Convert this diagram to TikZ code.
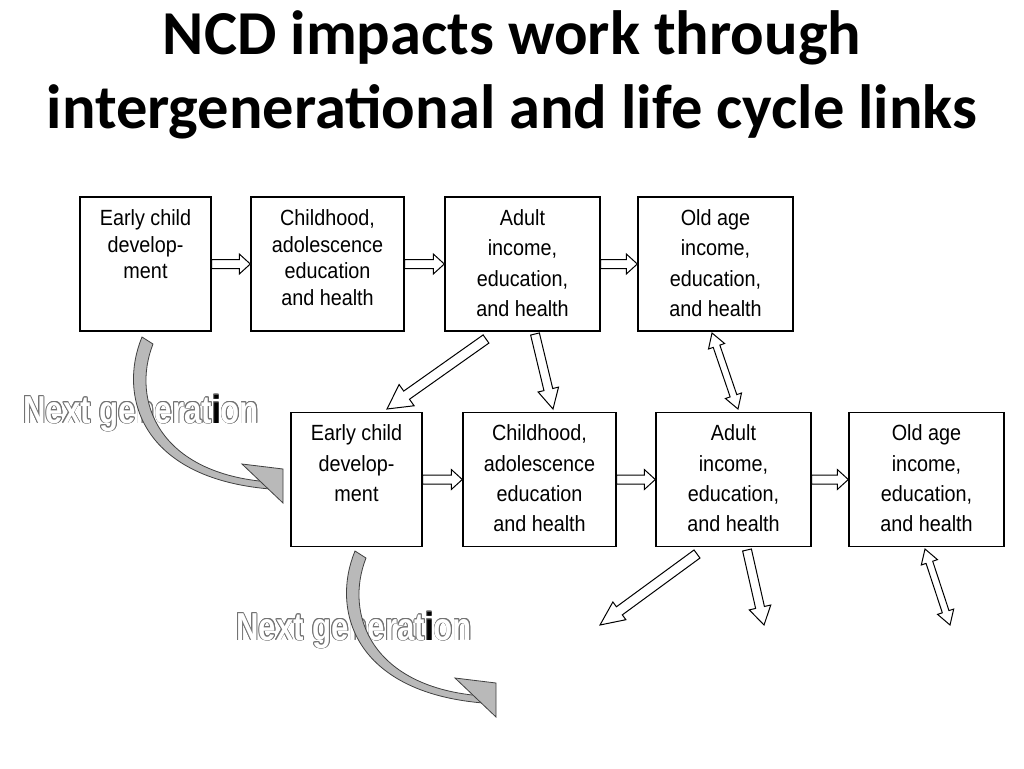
\documentclass[tikz,border=0pt]{standalone}
\usepackage{fontspec}
\usetikzlibrary{calc,positioning}
\newfontfamily\titlefont{Carlito}
\newfontfamily\boxfont[FakeStretch=0.9]{Liberation Sans}
\newfontfamily\genfont[FakeStretch=0.8]{Liberation Sans}

\tikzset{
  box/.style={draw, line width=1.4pt, inner sep=0pt, minimum height=134pt},
  boxtext/.style={inner sep=0pt, align=center, font=\boxfont\fontsize{22}{30.3}\selectfont},
  boxtight/.style={boxtext, font=\boxfont\fontsize{22}{26.6}\selectfont},
  fatline/.style={draw=black, line width=1pt, fill=white, line join=miter},
  genshape/.style={fill=gray!55, draw=black!75, line width=0.8pt},
  genlbl/.style={inner sep=0pt, anchor=base west, font=\genfont\bfseries\fontsize{39}{39}\selectfont},
  titletext/.style={anchor=base, font=\titlefont\bfseries\fontsize{62.5}{70}\selectfont},
}

% hollow block arrow: shaft half width, head half width, head length, from, to
\newcommand{\fatarrow}[5]{%
  \path[fatline] let \p1=(#4), \p2=(#5), \p3=($(#5)!#3!(#4)$) in
    ($(\p1)!#1!-90:(\p2)$) -- ($(\p3)!#1!-90:(\p2)$) -- ($(\p3)!#2!-90:(\p2)$)
    -- (\p2) -- ($(\p3)!#2!90:(\p2)$) -- ($(\p3)!#1!90:(\p2)$)
    -- ($(\p1)!#1!90:(\p2)$) -- cycle;
}
% same, with a head at both ends
\newcommand{\fatdarrow}[5]{%
  \path[fatline] let \p1=(#4), \p2=(#5), \p3=($(#5)!#3!(#4)$), \p4=($(#4)!#3!(#5)$) in
    (\p1) -- ($(\p4)!#2!-90:(\p2)$) -- ($(\p4)!#1!-90:(\p2)$)
    -- ($(\p3)!#1!-90:(\p2)$) -- ($(\p3)!#2!-90:(\p2)$) -- (\p2)
    -- ($(\p3)!#2!90:(\p2)$) -- ($(\p3)!#1!90:(\p2)$)
    -- ($(\p4)!#1!90:(\p2)$) -- ($(\p4)!#2!90:(\p2)$) -- cycle;
}
% grey curved arrow to the next generation
\newcommand{\genarrow}{%
  \path[genshape] (142,337) .. controls (118,395) and (140,478) .. (270,489)
    -- (270,482) .. controls (158,474) and (131,400) .. (153,344) -- cycle;
  \path[genshape] (242,464) -- (283,469) -- (283,503) -- cycle;
}
% outlined label: name, position
\newcommand{\genlabel}[2]{%
  \foreach \a [count=\k] in {0,30,...,330}
    \node[genlbl, text=black!55] (#1o\k) at ($(#2)+(\a:0.8pt)$) {Next generation};
  \node[genlbl, text=white] (#1) at (#2) {Next generat{\color{black}i}on};
}

\begin{document}
\begin{tikzpicture}[x=1pt,y=-1pt]
\useasboundingbox (0,0) rectangle (1024,768);

% title
\node[titletext] (title1) at (512,55) {NCD impacts work through};
\node[titletext] (title2) at (512,128) {intergenerational and life cycle links};

% this generation
\node[box, minimum width=131pt] (ecd1) at (145.5,264) {};
\node[box, minimum width=153pt] (chd1) at (327.5,264) {};
\node[box, minimum width=155pt] (adu1) at (522.5,264) {};
\node[box, minimum width=155pt] (old1) at (715.5,264) {};
\node[boxtight, below=13pt of ecd1.north] (ecd1t) {Early child\\develop-\\ment};
\node[boxtight, below=13pt of chd1.north] (chd1t) {Childhood,\\adolescence\\education\\and health};
\node[boxtext, below=13pt of adu1.north] (adu1t) {Adult\\income,\\education,\\and health};
\node[boxtext, below=13pt of old1.north] (old1t) {Old age\\income,\\education,\\and health};

% next generation
\node[box, minimum width=131pt] (ecd2) at (356.5,479.5) {};
\node[box, minimum width=153pt] (chd2) at (539.5,479.5) {};
\node[box, minimum width=155pt] (adu2) at (733.5,479.5) {};
\node[box, minimum width=155pt] (old2) at (926.5,479.5) {};
\node[boxtext, below=13pt of ecd2.north] (ecd2t) {Early child\\develop-\\ment};
\node[boxtext, below=13pt of chd2.north] (chd2t) {Childhood,\\adolescence\\education\\and health};
\node[boxtext, below=13pt of adu2.north] (adu2t) {Adult\\income,\\education,\\and health};
\node[boxtext, below=13pt of old2.north] (old2t) {Old age\\income,\\education,\\and health};

% life cycle arrows
\fatarrow{4.5pt}{10pt}{11pt}{ecd1.east}{chd1.west}
\fatarrow{4.5pt}{10pt}{11pt}{chd1.east}{adu1.west}
\fatarrow{4.5pt}{10pt}{11pt}{adu1.east}{old1.west}
\fatarrow{4.5pt}{10pt}{11pt}{ecd2.east}{chd2.west}
\fatarrow{4.5pt}{10pt}{11pt}{chd2.east}{adu2.west}
\fatarrow{4.5pt}{10pt}{11pt}{adu2.east}{old2.west}

% links between generations
\coordinate (p1) at (486,339);
\coordinate (p2) at (535,334);
\coordinate (p3) at (712,333);
\coordinate (q1) at (387,409);
\coordinate (q2) at (553,409);
\coordinate (q3) at (738,409);
\fatarrow{5pt}{13pt}{24pt}{p1}{q1}
\fatarrow{4.5pt}{10.5pt}{20pt}{p2}{q2}
\fatdarrow{3.5pt}{8.5pt}{14pt}{p3}{q3}

\coordinate (r1) at (697,554);
\coordinate (r2) at (747,550);
\coordinate (r3) at (925,549);
\coordinate (s1) at (600,625);
\coordinate (s2) at (764,625);
\coordinate (s3) at (950,625);
\fatarrow{5pt}{11pt}{24pt}{r1}{s1}
\fatarrow{4.5pt}{11pt}{18pt}{r2}{s2}
\fatdarrow{3.5pt}{8.5pt}{14pt}{r3}{s3}

% next generation curves
\genlabel{ng1}{23,423}
\genarrow
\genlabel{ng2}{236,640}
\begin{scope}[shift={(213,214)}]
  \genarrow
\end{scope}
\end{tikzpicture}
\end{document}
